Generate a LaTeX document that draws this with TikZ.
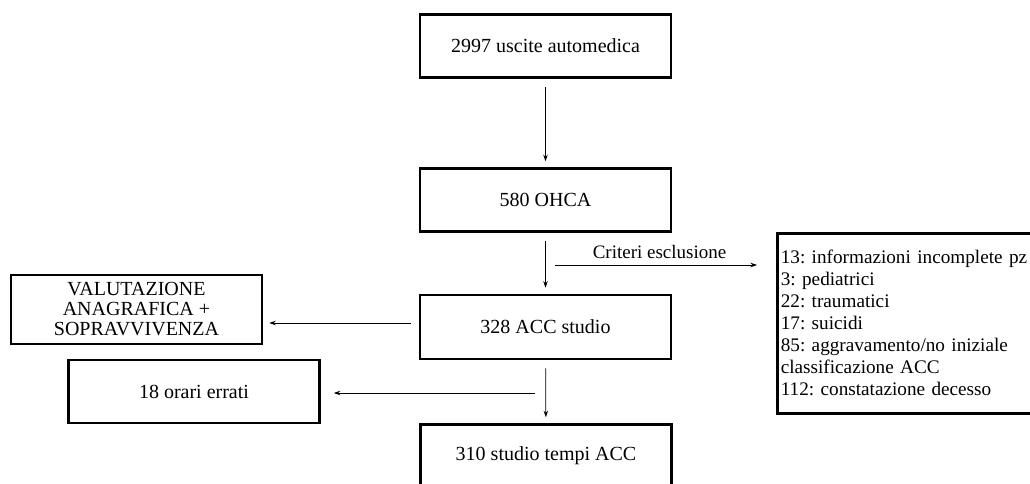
\documentclass[tikz,border=0pt]{standalone}
\usepackage{fontspec}
\setmainfont{Liberation Serif}
\frenchspacing
\usetikzlibrary{arrows.meta, positioning}

\begin{document}
\begin{tikzpicture}[x=1pt, y=-1pt,
    blocco/.style={draw, line width=2.6pt, minimum width=251, minimum height=63, inner sep=0pt, align=center, font=\fontsize{20}{20}\selectfont},
    freccia/.style={-{Stealth[length=6.5pt, width=4.5pt]}, line width=0.8pt, shorten <=8pt, shorten >=6pt}]
                \useasboundingbox (0,0) rectangle (1030,483);
                \clip (0,0) rectangle (1030,483);
                \node[blocco] (uscite) at (545.5,46) {2997 uscite automedica};
                \node[blocco] (ohca) at (545.5,200) {580 OHCA};
                \node[blocco, minimum height=64] (acc) at (545.5,327) {328 ACC studio};
                \node[blocco] (tempi) at (546,456) {310 studio tempi ACC};
                \node[blocco, minimum height=69] (anag) at (136.5,309.5) {VALUTAZIONE\\ANAGRAFICA +\\SOPRAVVIVENZA};
                \node[blocco] (orari) at (194,391.5) {18 orari errati};
                \node[blocco, anchor=north west, minimum height=180, text width=262, align=left, inner xsep=3.5pt, font=\fontsize{19.2}{22}\selectfont] (escl) at (776,232)
                    {13: informazioni incomplete pz\\3: pediatrici\\22: traumatici\\17: suicidi\\85: aggravamento/no iniziale\\classificazione ACC\\112: constatazione decesso};
                \coordinate (crit) at (555,265);
                \coordinate (err) at (535,393);
                \coordinate (accsx) at ([yshift=4pt]acc.west);
                \draw[freccia] (uscite) -- (ohca);
                \draw[freccia] (ohca) -- (acc);
                \draw[freccia] (acc) -- (tempi);
                \draw[freccia] (accsx) -- (anag.east |- accsx);
                \draw[freccia, shorten <=0pt, shorten >=19pt] (crit) -- (escl.west |- crit)
                    node[midway, above, inner sep=6pt, font=\fontsize{19}{19}\selectfont, xshift=-6pt] (critlab) {Criteri esclusione};
                \draw[freccia, shorten <=0pt, shorten >=13pt] (err) -- (orari.east |- err);
            \end{tikzpicture}
\end{document}
